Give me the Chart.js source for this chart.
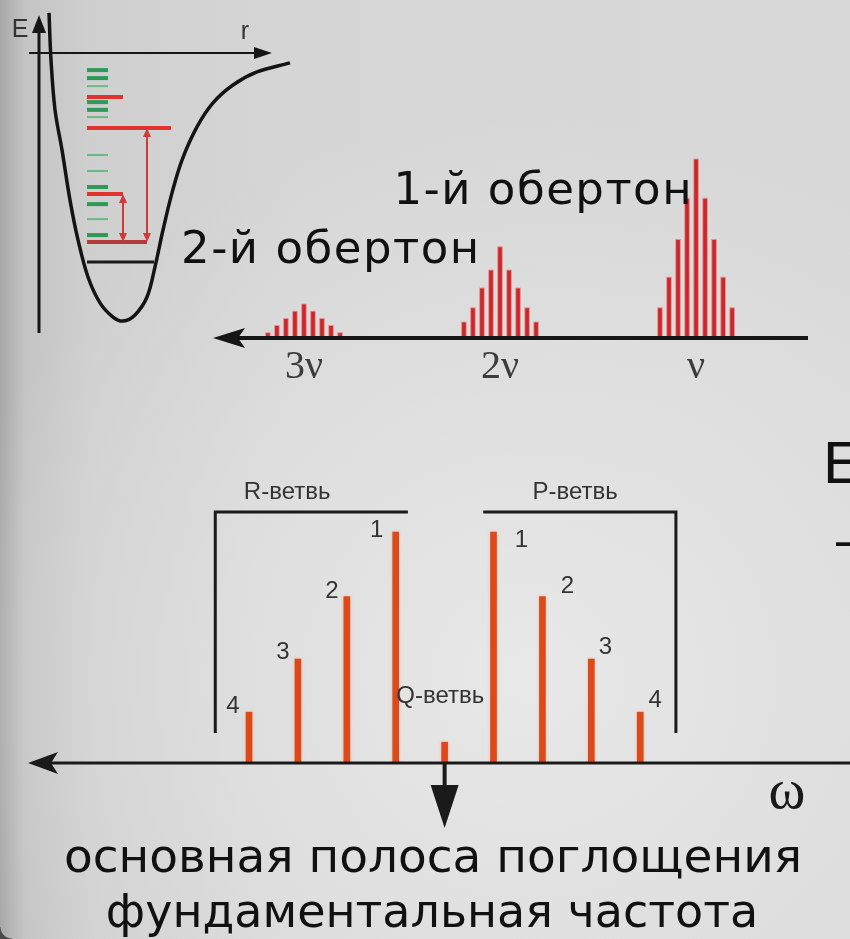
<!DOCTYPE html>
<html>
<head>
<meta charset="utf-8">
<script src="https://cdn.jsdelivr.net/npm/chart.js@4.4.1/dist/chart.umd.min.js"></script>
<style>
  html, body { margin: 0; padding: 0; }
  body {
    width: 850px; height: 939px; overflow: hidden; position: relative;
    background:
      radial-gradient(ellipse 70% 60% at 62% 72%, rgba(232,232,232,1) 0%, rgba(232,232,232,0) 100%),
      linear-gradient(to right, #a8a8a8 0px, #c4c4c4 25px, #cfcfcf 90px, #d6d6d6 300px, #d8d8d8 850px);
  }
  body::after {
    content: ''; position: absolute; left: 0; bottom: 0; width: 12px; height: 12px;
    background: radial-gradient(circle at 12px 0, rgba(0,0,0,0) 11px, #4a4a4a 12px);
  }
  canvas { position: absolute; }
  #well { left: 0; top: 0; }
  #overtones { left: 170px; top: 120px; }
  #branches { left: 0; top: 400px; }
</style>
</head>
<body>
<canvas id="well" width="300" height="340"></canvas>
<canvas id="overtones" width="660" height="280"></canvas>
<canvas id="branches" width="850" height="539"></canvas>
<script>
// potential curve (r arbitrary units, E as fraction of well depth)
const wellR = [0.20, 0.24, 0.32, 0.46, 0.62, 0.78, 0.98, 1.22, 1.48, 1.68, 1.92, 2.16, 2.32, 2.48, 2.66, 2.86, 3.16, 3.48, 3.88, 4.36, 5.02]
const wellE = [0.150, -0.026, -0.213, -0.363, -0.551, -0.700, -0.839, -0.936, -0.989, -1.004, -0.981, -0.914, -0.801, -0.663, -0.524, -0.401, -0.277, -0.187, -0.120, -0.071, -0.037]

// energy levels inside the well
const levelStart = 0.96
const redLevelE = [-0.165, -0.281, -0.528]
const redLevelEnd = [1.68, 2.64, 1.68]
const groundLevelE = [-0.708]
const groundLevelEnd = [2.16]
const zeroLevelE = [-0.783]
const zeroLevelEnd = [2.30]
const greenLevelE = [-0.064, -0.094, -0.184, -0.213, -0.502, -0.566, -0.682]
const greenThinE = [-0.124, -0.240, -0.382, -0.442, -0.622]
const greenEnd = 1.38
const transitionFrom = [-0.708, -0.708]
const transitionTo = [-0.281, -0.528]
const transitionR = [2.16, 1.68]

// overtone spectrum
const overtoneTicks = ['ν', '2ν', '3ν']
const overtoneCenters = [1, 2, 3]
const lineOffsets = [-4, -3, -2, -1, 0, 1, 2, 3, 4]
const fundamental = [17, 34, 55, 78, 100, 78, 55, 34, 17]
const firstOvertone = [9, 17, 28, 38, 51, 38, 28, 17, 9]
const secondOvertone = [3, 7, 11, 15, 19, 15, 11, 7, 3]
const overtoneTitles = ['1-й обертон', '2-й обертон']

// rotational structure of the fundamental band
const branchPos = [-4, -3, -2, -1, 0, 1, 2, 3, 4]
const branchIntensity = [22, 45, 72, 100, 9, 100, 72, 45, 22]
const lineNumbers = ['4', '3', '2', '1', '', '1', '2', '3', '4']
const branchNames = ['R-ветвь', 'Q-ветвь', 'P-ветвь']
const captionLines = ['основная полоса поглощения', 'фундаментальная частота']

const sans = '"Liberation Sans", Arial, sans-serif'
const dejavu = '"DejaVu Sans", Verdana, sans-serif'
const serif = '"Liberation Serif", "Times New Roman", serif'

function vArrow(ctx, px, yLow, yHigh) {
  const h = 7, w = 4
  ctx.beginPath(); ctx.moveTo(px, yLow - h); ctx.lineTo(px, yHigh + h); ctx.stroke()
  ctx.beginPath(); ctx.moveTo(px, yHigh); ctx.lineTo(px - w, yHigh + h + 2); ctx.lineTo(px + w, yHigh + h + 2); ctx.closePath(); ctx.fill()
  ctx.beginPath(); ctx.moveTo(px, yLow); ctx.lineTo(px - w, yLow - h - 2); ctx.lineTo(px + w, yLow - h - 2); ctx.closePath(); ctx.fill()
}

const wellDecor = {
  id: 'wellDecor',
  afterDatasetsDraw(chart) {
    const { ctx, scales: { x, y } } = chart
    ctx.save()
    ctx.strokeStyle = '#161616'
    ctx.fillStyle = '#161616'
    // E axis
    const ex = x.getPixelForValue(0)
    const eTop = y.getPixelForValue(0.142)
    ctx.lineWidth = 3
    ctx.beginPath(); ctx.moveTo(ex, y.getPixelForValue(-1.049)); ctx.lineTo(ex, eTop + 10); ctx.stroke()
    ctx.beginPath(); ctx.moveTo(ex, eTop); ctx.lineTo(ex - 7, eTop + 18); ctx.lineTo(ex + 7, eTop + 18); ctx.closePath(); ctx.fill()
    // r axis
    const ry = y.getPixelForValue(0)
    const rEnd = x.getPixelForValue(4.66)
    ctx.lineWidth = 2
    ctx.beginPath(); ctx.moveTo(x.getPixelForValue(-0.2), ry); ctx.lineTo(rEnd - 10, ry); ctx.stroke()
    ctx.beginPath(); ctx.moveTo(rEnd, ry); ctx.lineTo(rEnd - 18, ry - 6); ctx.lineTo(rEnd - 18, ry + 6); ctx.closePath(); ctx.fill()
    // labels
    ctx.fillStyle = '#333'
    ctx.font = '25px ' + sans
    ctx.textAlign = 'center'
    ctx.textBaseline = 'middle'
    ctx.fillText('E', x.getPixelForValue(-0.38), y.getPixelForValue(0.086))
    ctx.fillText('r', x.getPixelForValue(4.12), y.getPixelForValue(0.079))
    // transitions
    ctx.strokeStyle = '#d23a3a'
    ctx.fillStyle = '#d23a3a'
    ctx.lineWidth = 2
    transitionR.forEach((r, i) => {
      vArrow(ctx, x.getPixelForValue(r), y.getPixelForValue(transitionFrom[i]), y.getPixelForValue(transitionTo[i]))
    })
    ctx.restore()
  }
}

function levelSets(es, ends, color, width) {
  return es.map((e, i) => ({
    data: [{ x: levelStart, y: e }, { x: Array.isArray(ends) ? ends[i] : ends, y: e }],
    showLine: true, borderColor: color, borderWidth: width, pointRadius: 0
  }))
}

new Chart(document.querySelector('#well'), {
  type: 'scatter',
  data: {
    datasets: [
      {
        data: wellR.map((r, i) => ({ x: r, y: wellE[i] })),
        showLine: true, borderColor: '#141414', borderWidth: 3.5, pointRadius: 0, tension: 0.35
      },
      ...levelSets(zeroLevelE, zeroLevelEnd, '#1a1a1a', 3),
      ...levelSets(greenThinE, greenEnd, '#6fb884', 2),
      ...levelSets(greenLevelE, greenEnd, '#2e9a56', 4),
      ...levelSets(redLevelE, redLevelEnd, '#e0322e', 4),
      ...levelSets(groundLevelE, groundLevelEnd, '#b53a3a', 4)
    ]
  },
  options: {
    responsive: false,
    animation: false,
    layout: { padding: 0 },
    scales: {
      x: { type: 'linear', min: -0.78, max: 5.22, display: false },
      y: { type: 'linear', min: -1.075, max: 0.1985, display: false }
    },
    plugins: { legend: false, tooltip: { enabled: false } }
  },
  plugins: [wellDecor]
})

const barGlow = {
  id: 'barGlow',
  beforeDatasetsDraw(chart, args, opts) {
    chart.ctx.save()
    chart.ctx.shadowColor = opts.color
    chart.ctx.shadowBlur = opts.blur
  },
  afterDatasetsDraw(chart) {
    chart.ctx.restore()
  }
}

const overtoneDecor = {
  id: 'overtoneDecor',
  afterDatasetsDraw(chart) {
    const { ctx, scales: { x, y } } = chart
    const base = y.getPixelForValue(0)
    ctx.save()
    ctx.strokeStyle = '#161616'
    ctx.fillStyle = '#161616'
    ctx.lineWidth = 4
    ctx.beginPath(); ctx.moveTo(x.left + 20, base); ctx.lineTo(x.right, base); ctx.stroke()
    ctx.beginPath(); ctx.moveTo(x.left, base); ctx.lineTo(x.left + 32, base - 10); ctx.lineTo(x.left + 25, base); ctx.lineTo(x.left + 32, base + 10); ctx.closePath(); ctx.fill()
    ctx.fillStyle = '#111'
    ctx.font = '45px ' + dejavu
    ctx.letterSpacing = '1.5px'
    ctx.textBaseline = 'alphabetic'
    ctx.textAlign = 'right'
    ctx.fillText(overtoneTitles[0], x.getPixelForValue(1) - 3, 84)
    ctx.textAlign = 'left'
    ctx.fillText(overtoneTitles[1], 11, 143)
    ctx.restore()
  }
}

function cluster(center, heights) {
  return {
    data: lineOffsets.map((o, i) => ({ x: center + o * 0.046, y: heights[i] })),
    backgroundColor: '#c8282c',
    borderColor: 'rgba(236,140,140,0.9)',
    borderWidth: 1,
    barThickness: 5,
    grouped: false
  }
}

new Chart(document.querySelector('#overtones'), {
  type: 'bar',
  data: {
    datasets: [
      cluster(overtoneCenters[0], fundamental),
      cluster(overtoneCenters[1], firstOvertone),
      cluster(overtoneCenters[2], secondOvertone)
    ]
  },
  options: {
    responsive: false,
    animation: false,
    layout: { padding: { left: 43, right: 22, top: 28, bottom: 4 } },
    scales: {
      x: {
        type: 'linear', reverse: true, offset: false, min: 0.429, max: 3.464,
        grid: { display: false, drawTicks: false },
        border: { display: false },
        afterBuildTicks: axis => { axis.ticks = overtoneCenters.map(v => ({ value: v })) },
        ticks: {
          autoSkip: false, maxRotation: 0, padding: 5,
          color: '#3c3c3c',
          font: { family: serif, size: 40 },
          callback: value => overtoneTicks[overtoneCenters.indexOf(value)]
        }
      },
      y: { min: 0, max: 106, display: false }
    },
    plugins: {
      legend: false, tooltip: { enabled: false },
      barGlow: { color: 'rgba(240,120,120,0.7)', blur: 3 }
    }
  },
  plugins: [barGlow, overtoneDecor]
})

const branchDecor = {
  id: 'branchDecor',
  afterDatasetsDraw(chart, args, opts) {
    const { ctx, scales: { x, y } } = chart
    const base = y.getPixelForValue(0)
    ctx.save()
    ctx.strokeStyle = '#1a1a1a'
    ctx.fillStyle = '#1a1a1a'
    // frequency axis, arrow to the left
    ctx.lineWidth = 3
    ctx.beginPath(); ctx.moveTo(x.left + 20, base); ctx.lineTo(x.right, base); ctx.stroke()
    ctx.beginPath(); ctx.moveTo(x.left, base); ctx.lineTo(x.left + 30, base - 11); ctx.lineTo(x.left + 23, base); ctx.lineTo(x.left + 30, base + 11); ctx.closePath(); ctx.fill()
    // brackets over the R and P branches
    ctx.lineWidth = 3
    const top = y.getPixelForValue(108.7)
    const foot = y.getPixelForValue(13)
    ctx.beginPath()
    ctx.moveTo(x.getPixelForValue(-4.69), foot); ctx.lineTo(x.getPixelForValue(-4.69), top); ctx.lineTo(x.getPixelForValue(-0.75), top)
    ctx.moveTo(x.getPixelForValue(0.79), top); ctx.lineTo(x.getPixelForValue(4.73), top); ctx.lineTo(x.getPixelForValue(4.73), foot)
    ctx.stroke()
    // arrow down from the band centre
    const xq = x.getPixelForValue(0)
    ctx.lineWidth = 4
    ctx.beginPath(); ctx.moveTo(xq, base); ctx.lineTo(xq, base + 30); ctx.stroke()
    ctx.beginPath(); ctx.moveTo(xq - 14, base + 22); ctx.lineTo(xq + 14, base + 22); ctx.lineTo(xq, base + 65); ctx.closePath(); ctx.fill()
    // branch names
    ctx.fillStyle = '#333'
    ctx.font = '24px ' + sans
    ctx.textAlign = 'center'
    ctx.textBaseline = 'alphabetic'
    ctx.fillText(branchNames[0], x.getPixelForValue(-3.22), y.getPixelForValue(114.3))
    ctx.fillText(branchNames[1], x.getPixelForValue(-0.09), y.getPixelForValue(26))
    ctx.fillText(branchNames[2], x.getPixelForValue(2.67), y.getPixelForValue(114.3))
    // line numbers
    lineNumbers.forEach((t, i) => {
      if (!t) return
      const s = opts.numberShift[i]
      ctx.fillText(t, x.getPixelForValue(branchPos[i]) + s[0], y.getPixelForValue(branchIntensity[i]) + s[1])
    })
    // omega
    ctx.fillStyle = '#1a1a1a'
    ctx.font = '56px ' + serif
    ctx.fillText('ω', x.right - 63, base + 45)
    // caption
    ctx.fillStyle = '#111'
    ctx.font = '47px ' + dejavu
    ctx.fillText(captionLines[0], 433, base + 109)
    ctx.font = '46px ' + dejavu
    ctx.fillText(captionLines[1], 432, base + 164)
    // cut-off slide title at the right edge
    ctx.font = '60px ' + sans
    ctx.textAlign = 'left'
    ctx.fillText('Е', 823, 83)
    ctx.font = '56px ' + sans
    ctx.fillText('–', 836, 158)
    ctx.restore()
  }
}

new Chart(document.querySelector('#branches'), {
  type: 'bar',
  data: {
    datasets: [{
      data: branchPos.map((p, i) => ({ x: p, y: branchIntensity[i] })),
      backgroundColor: '#dc4a1c',
      borderWidth: 0,
      barThickness: 6
    }]
  },
  options: {
    responsive: false,
    animation: false,
    layout: { padding: { left: 28, right: 0, top: 100, bottom: 176 } },
    scales: {
      x: { type: 'linear', offset: false, min: -8.52, max: 8.29, display: false },
      y: { min: 0, max: 113.85, display: false }
    },
    plugins: {
      legend: false, tooltip: { enabled: false },
      barGlow: { color: 'rgba(255,160,120,0.7)', blur: 3 },
      branchDecor: {
        numberShift: [[-16, 1], [-15, 0], [-15, 1], [-19, 5], null, [28, 15], [25, -4], [14, -5], [15, -5]]
      }
    }
  },
  plugins: [barGlow, branchDecor]
})
</script>
</body>
</html>
